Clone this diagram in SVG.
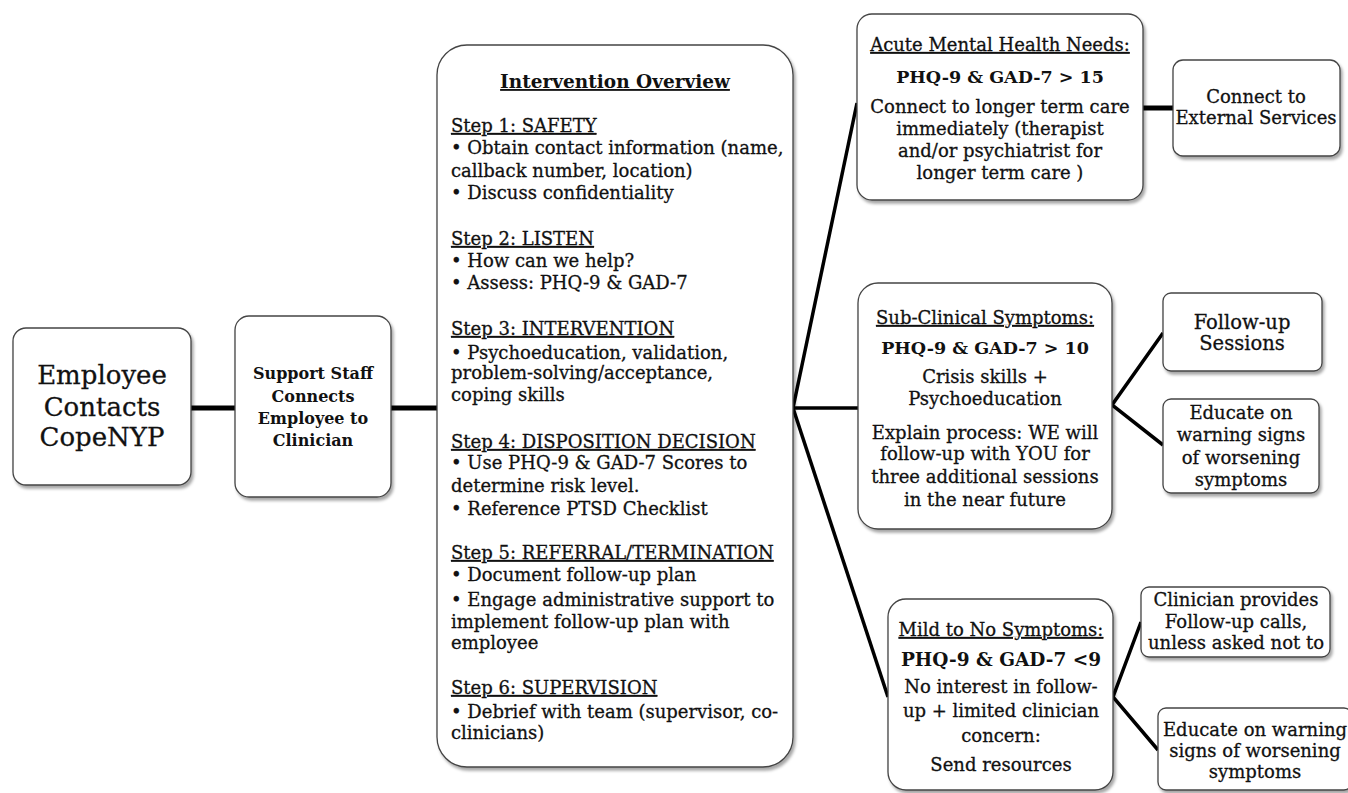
<svg xmlns="http://www.w3.org/2000/svg" width="1348" height="793" viewBox="0 0 1348 793">
<defs>
<filter id="sh" x="-10%" y="-10%" width="130%" height="130%">
<feDropShadow dx="2" dy="3" stdDeviation="1.5" flood-color="#000" flood-opacity="0.35"/>
</filter>
<style>
.box{fill:#fff;stroke:#444;stroke-width:1.3;filter:url(#sh)}
.t{font-family:"DejaVu Serif","Liberation Serif",serif;font-size:18px;fill:#111;stroke:#111;stroke-width:0.3}
.c{text-anchor:middle}
.b{font-weight:bold;stroke-width:0}
.u{text-decoration:underline}
.conn{stroke:#000;fill:none;stroke-linecap:butt}
.thick{stroke-width:5}
.thin{stroke-width:3.5}
</style>
</defs>
<rect width="1348" height="793" fill="#fff"/>
<g id="connectors">
<line class="conn thick" x1="191" y1="408" x2="235" y2="408"/>
<line class="conn thick" x1="391" y1="408" x2="437" y2="408"/>
<line class="conn thin" x1="793" y1="408" x2="857" y2="103"/>
<line class="conn thin" x1="793" y1="408" x2="858" y2="408"/>
<line class="conn thin" x1="793" y1="408" x2="888" y2="697"/>
<line class="conn thick" x1="1143" y1="108" x2="1173" y2="108"/>
<polyline class="conn thin" points="1163,333 1112,405 1163,445"/>
<polyline class="conn thin" points="1141,622 1113,697 1158,750"/>
</g>
<g id="employee">
<rect class="box" x="13" y="328" width="178" height="157" rx="13"/>
<text class="t c" style="font-size:26px" x="102" y="384">Employee</text>
<text class="t c" style="font-size:26px" x="102" y="416">Contacts</text>
<text class="t c" style="font-size:26px" x="102" y="446">CopeNYP</text>
</g>
<g id="support">
<rect class="box" x="235" y="316" width="156" height="181" rx="14"/>
<text class="t c b" style="font-size:16px" x="313" y="379">Support Staff</text>
<text class="t c b" style="font-size:16px" x="313" y="402">Connects</text>
<text class="t c b" style="font-size:16px" x="313" y="424">Employee to</text>
<text class="t c b" style="font-size:16px" x="313" y="446">Clinician</text>
</g>
<g id="overview">
<rect class="box" x="437" y="45" width="356" height="722" rx="30"/>
<text class="t c b u" style="font-size:18.5px" x="615" y="88">Intervention Overview</text>
<text class="t u" x="451" y="132">Step 1: SAFETY</text>
<text class="t" x="451" y="154">• Obtain contact information (name,</text>
<text class="t" x="451" y="177">callback number, location)</text>
<text class="t" x="451" y="199">• Discuss confidentiality</text>
<text class="t u" x="451" y="245">Step 2: LISTEN</text>
<text class="t" x="451" y="267">• How can we help?</text>
<text class="t" x="451" y="289">• Assess: PHQ-9 &amp; GAD-7</text>
<text class="t u" x="451" y="335">Step 3: INTERVENTION</text>
<text class="t" x="451" y="359">• Psychoeducation, validation,</text>
<text class="t" x="451" y="379">problem-solving/acceptance,</text>
<text class="t" x="451" y="401">coping skills</text>
<text class="t u" x="451" y="448">Step 4: DISPOSITION DECISION</text>
<text class="t" x="451" y="469">• Use PHQ-9 &amp; GAD-7 Scores to</text>
<text class="t" x="451" y="492">determine risk level.</text>
<text class="t" x="451" y="515">• Reference PTSD Checklist</text>
<text class="t u" x="451" y="559">Step 5: REFERRAL/TERMINATION</text>
<text class="t" x="451" y="581">• Document follow-up plan</text>
<text class="t" x="451" y="606">• Engage administrative support to</text>
<text class="t" x="451" y="628">implement follow-up plan with</text>
<text class="t" x="451" y="649">employee</text>
<text class="t u" x="451" y="694">Step 6: SUPERVISION</text>
<text class="t" x="451" y="718">• Debrief with team (supervisor, co-</text>
<text class="t" x="451" y="739">clinicians)</text>
</g>
<g id="acute">
<rect class="box" x="857" y="14" width="286" height="186" rx="15"/>
<text class="t c u" x="1000" y="51">Acute Mental Health Needs:</text>
<text class="t c b" style="font-size:17.5px" x="1000" y="83">PHQ-9 &amp; GAD-7 &gt; 15</text>
<text class="t c" x="1000" y="113">Connect to longer term care</text>
<text class="t c" x="1000" y="135">immediately (therapist</text>
<text class="t c" x="1000" y="157">and/or psychiatrist for</text>
<text class="t c" x="1000" y="179">longer term care )</text>
</g>
<g id="external">
<rect class="box" x="1173" y="60" width="167" height="96" rx="10"/>
<text class="t c" x="1256" y="103">Connect to</text>
<text class="t c" x="1256" y="124">External Services</text>
</g>
<g id="subclinical">
<rect class="box" x="858" y="283" width="254" height="246" rx="20"/>
<text class="t c u" x="985" y="324">Sub-Clinical Symptoms:</text>
<text class="t c b" style="font-size:17.5px" x="985" y="354">PHQ-9 &amp; GAD-7 &gt; 10</text>
<text class="t c" x="985" y="383">Crisis skills +</text>
<text class="t c" x="985" y="405">Psychoeducation</text>
<text class="t c" x="985" y="439">Explain process: WE will</text>
<text class="t c" x="985" y="460">follow-up with YOU for</text>
<text class="t c" x="985" y="483">three additional sessions</text>
<text class="t c" x="985" y="506">in the near future</text>
</g>
<g id="followup">
<rect class="box" x="1163" y="293" width="159" height="78" rx="8"/>
<text class="t c" style="font-size:19.5px" x="1242" y="329">Follow-up</text>
<text class="t c" style="font-size:19.5px" x="1242" y="350">Sessions</text>
</g>
<g id="educate1">
<rect class="box" x="1163" y="399" width="156" height="94" rx="8"/>
<text class="t c" x="1241" y="419">Educate on</text>
<text class="t c" x="1241" y="441">warning signs</text>
<text class="t c" x="1241" y="464">of worsening</text>
<text class="t c" x="1241" y="486">symptoms</text>
</g>
<g id="mild">
<rect class="box" x="888" y="599" width="225" height="191" rx="18"/>
<text class="t c u" x="1001" y="636">Mild to No Symptoms:</text>
<text class="t c b" style="font-size:18.5px" x="1001" y="666">PHQ-9 &amp; GAD-7 &lt;9</text>
<text class="t c" x="1001" y="693">No interest in follow-</text>
<text class="t c" x="1001" y="717">up + limited clinician</text>
<text class="t c" x="1001" y="742">concern:</text>
<text class="t c" x="1001" y="771">Send resources</text>
</g>
<g id="clinician">
<rect class="box" x="1141" y="587" width="189" height="70" rx="8"/>
<text class="t c" x="1236" y="606">Clinician provides</text>
<text class="t c" x="1236" y="628">Follow-up calls,</text>
<text class="t c" x="1236" y="649">unless asked not to</text>
</g>
<g id="educate2">
<rect class="box" x="1158" y="708" width="194" height="82" rx="8"/>
<text class="t c" x="1255" y="736">Educate on warning</text>
<text class="t c" x="1255" y="757">signs of worsening</text>
<text class="t c" x="1255" y="778">symptoms</text>
</g>
</svg>
